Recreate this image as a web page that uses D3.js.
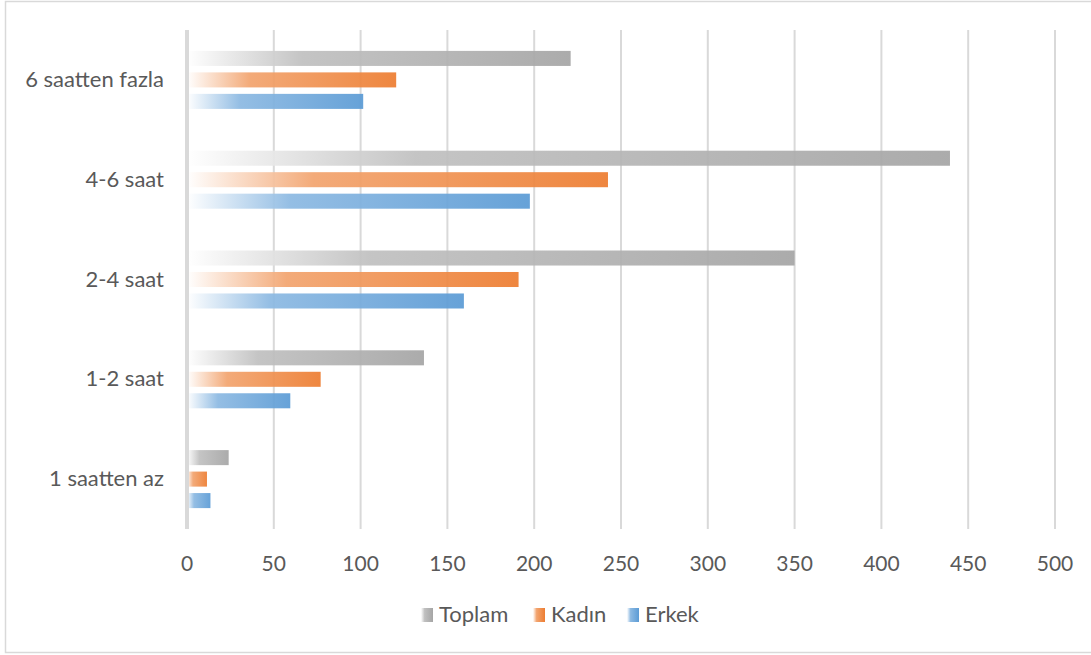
<!DOCTYPE html>
<html lang="tr">
<head>
<meta charset="utf-8">
<title>Bar chart</title>
<script src="https://cdn.jsdelivr.net/npm/d3@7"></script>
<style>
  body { margin: 0; background: #fff; }
  text { font-family: Lato, "Open Sans", sans-serif; fill: #595959; }
</style>
</head>
<body>
<script>
// categories from top to bottom
var categories = ["6 saatten fazla", "4-6 saat", "2-4 saat", "1-2 saat", "1 saatten az"];
var seriesNames = ["Toplam", "Kadın", "Erkek"];
var toplam = [221, 439.5, 350, 136.5, 24];
var kadin = [120.5, 242.5, 191, 77, 11.5];
var erkek = [101.5, 197.5, 159.5, 59.5, 13.5];
var xTicks = [0, 50, 100, 150, 200, 250, 300, 350, 400, 450, 500];
var colors = ["#a5a5a5", "#ed7d31", "#5b9bd5"];

var w = 1091, h = 655;
var plotLeft = 187, plotRight = 1055, plotTop = 30, plotBottom = 529;

var svg = d3.select("body").append("svg")
    .attr("width", w)
    .attr("height", h);

// outer border
svg.append("rect")
    .attr("x", 5.5).attr("y", 1.5)
    .attr("width", 1090).attr("height", 651)
    .attr("fill", "none")
    .attr("stroke", "#d9d9d9")
    .attr("stroke-width", 1.5);

// gradients per series
var defs = svg.append("defs");
colors.forEach(function (c, i) {
    var g = defs.append("linearGradient")
        .attr("id", "grad" + i)
        .attr("x1", "0").attr("x2", "1").attr("y1", "0").attr("y2", "0");
    g.append("stop").attr("offset", "0").attr("stop-color", "#fff");
    g.append("stop").attr("offset", "0.3").attr("stop-color", d3.interpolateRgb("#fff", c)(0.7));
    g.append("stop").attr("offset", "1").attr("stop-color", c);
});

var x = d3.scaleLinear().domain([0, 500]).range([plotLeft, plotRight]);
var y = d3.scaleBand().domain(categories).range([plotTop, plotBottom]);
var inner = d3.scaleBand().domain(seriesNames).range([-29, 29]).paddingInner(0.3);

// gridlines
svg.selectAll("line.grid")
    .data(xTicks.slice(1))
    .enter().append("line")
    .attr("class", "grid")
    .attr("x1", function (d) { return x(d); })
    .attr("x2", function (d) { return x(d); })
    .attr("y1", plotTop).attr("y2", plotBottom)
    .attr("stroke", "#d9d9d9")
    .attr("stroke-width", 2);

// x labels
svg.selectAll("text.xl")
    .data(xTicks)
    .enter().append("text")
    .attr("class", "xl")
    .attr("x", function (d) { return x(d); })
    .attr("y", 571)
    .attr("text-anchor", "middle")
    .attr("font-size", "21px")
    .text(function (d) { return d; });

// bars
var data = [toplam, kadin, erkek];
data.forEach(function (vals, si) {
    svg.selectAll("rect.s" + si)
        .data(vals)
        .enter().append("rect")
        .attr("class", "s" + si)
        .attr("x", x(0))
        .attr("y", function (d, i) { return y(categories[i]) + y.bandwidth() / 2 + inner(seriesNames[si]); })
        .attr("width", function (d) { return x(d) - x(0); })
        .attr("height", inner.bandwidth())
        .attr("fill", "url(#grad" + si + ")")
        .attr("fill-opacity", 0.93);
});

// zero axis line
svg.append("line")
    .attr("x1", x(0)).attr("x2", x(0))
    .attr("y1", plotTop).attr("y2", plotBottom)
    .attr("stroke", "#d9d9d9")
    .attr("stroke-width", 4);

// category labels
svg.selectAll("text.cl")
    .data(categories)
    .enter().append("text")
    .attr("class", "cl")
    .attr("x", 164)
    .attr("y", function (d) { return y(d) + y.bandwidth() / 2 + 7; })
    .attr("text-anchor", "end")
    .attr("font-size", "22px")
    .text(function (d) { return d; });

// legend
var legendX = [421, 533, 627];
seriesNames.forEach(function (n, i) {
    svg.append("rect")
        .attr("x", legendX[i]).attr("y", 608)
        .attr("width", 12).attr("height", 14)
        .attr("fill", "url(#grad" + i + ")");
    svg.append("text")
        .attr("x", legendX[i] + 18).attr("y", 622)
        .attr("font-size", "22px")
        .text(n);
});
</script>
</body>
</html>
